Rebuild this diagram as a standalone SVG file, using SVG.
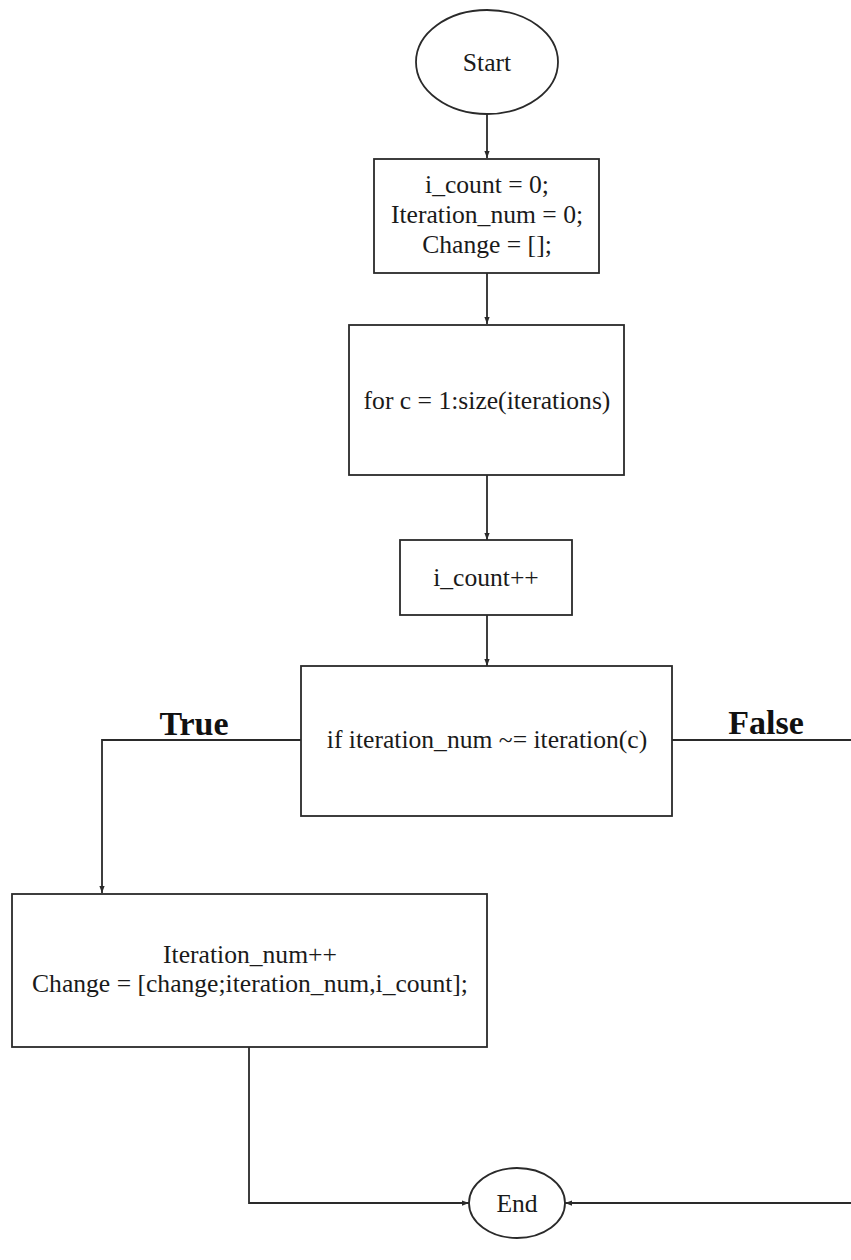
<svg xmlns="http://www.w3.org/2000/svg" width="851" height="1260" viewBox="0 0 851 1260">
<defs>
<style>
.shape{fill:#fff;stroke:#2a2a2a;stroke-width:1.8}
.t{font-family:"Liberation Serif","Times New Roman",serif;font-size:25.6px;fill:#1a1a1a;text-anchor:middle}
.lbl{font-family:"Liberation Serif","Times New Roman",serif;font-size:34px;font-weight:bold;fill:#111;text-anchor:middle}
.c{fill:none;stroke:#2a2a2a;stroke-width:1.8}
</style>
<marker id="ah" viewBox="0 0 8 8" refX="8" refY="4" markerWidth="7" markerHeight="7" markerUnits="userSpaceOnUse" orient="auto">
<path d="M0,1 L8,4 L0,7 z" fill="#2a2a2a"/>
</marker>
</defs>
<rect width="851" height="1260" fill="#fff"/>
<g id="connectors">
<path class="c" d="M487,113 V158" marker-end="url(#ah)"/>
<path class="c" d="M487,273 V324" marker-end="url(#ah)"/>
<path class="c" d="M487,475 V540" marker-end="url(#ah)"/>
<path class="c" d="M487,615 V666" marker-end="url(#ah)"/>
<path class="c" d="M301,740 H102 V893" marker-end="url(#ah)"/>
<path class="c" d="M672,740 H856 V1203 H565" marker-end="url(#ah)"/>
<path class="c" d="M249,1047 V1203 H469" marker-end="url(#ah)"/>
<text class="lbl" x="194" y="735">True</text>
<text class="lbl" x="766" y="734">False</text>
</g>
<g id="start">
<ellipse class="shape" cx="487" cy="62" rx="71" ry="52"/>
<text class="t" x="487" y="71">Start</text>
</g>
<g id="init">
<rect class="shape" x="374" y="159" width="225" height="114"/>
<text class="t" x="487" y="193">i_count = 0;</text>
<text class="t" x="487" y="223">Iteration_num = 0;</text>
<text class="t" x="487" y="253">Change = [];</text>
</g>
<g id="loop">
<rect class="shape" x="349" y="325" width="275" height="150"/>
<text class="t" x="487" y="409">for c = 1:size(iterations)</text>
</g>
<g id="inc">
<rect class="shape" x="400" y="540" width="172" height="75"/>
<text class="t" x="486" y="586">i_count++</text>
</g>
<g id="cond">
<rect class="shape" x="301" y="666" width="371" height="150"/>
<text class="t" x="487" y="748">if iteration_num ~= iteration(c)</text>
</g>
<g id="update">
<rect class="shape" x="12" y="894" width="475" height="153"/>
<text class="t" x="250" y="963">Iteration_num++</text>
<text class="t" x="250" y="992">Change = [change;iteration_num,i_count];</text>
</g>
<g id="end">
<ellipse class="shape" cx="517" cy="1203" rx="48" ry="35"/>
<text class="t" x="517" y="1212">End</text>
</g>
</svg>
